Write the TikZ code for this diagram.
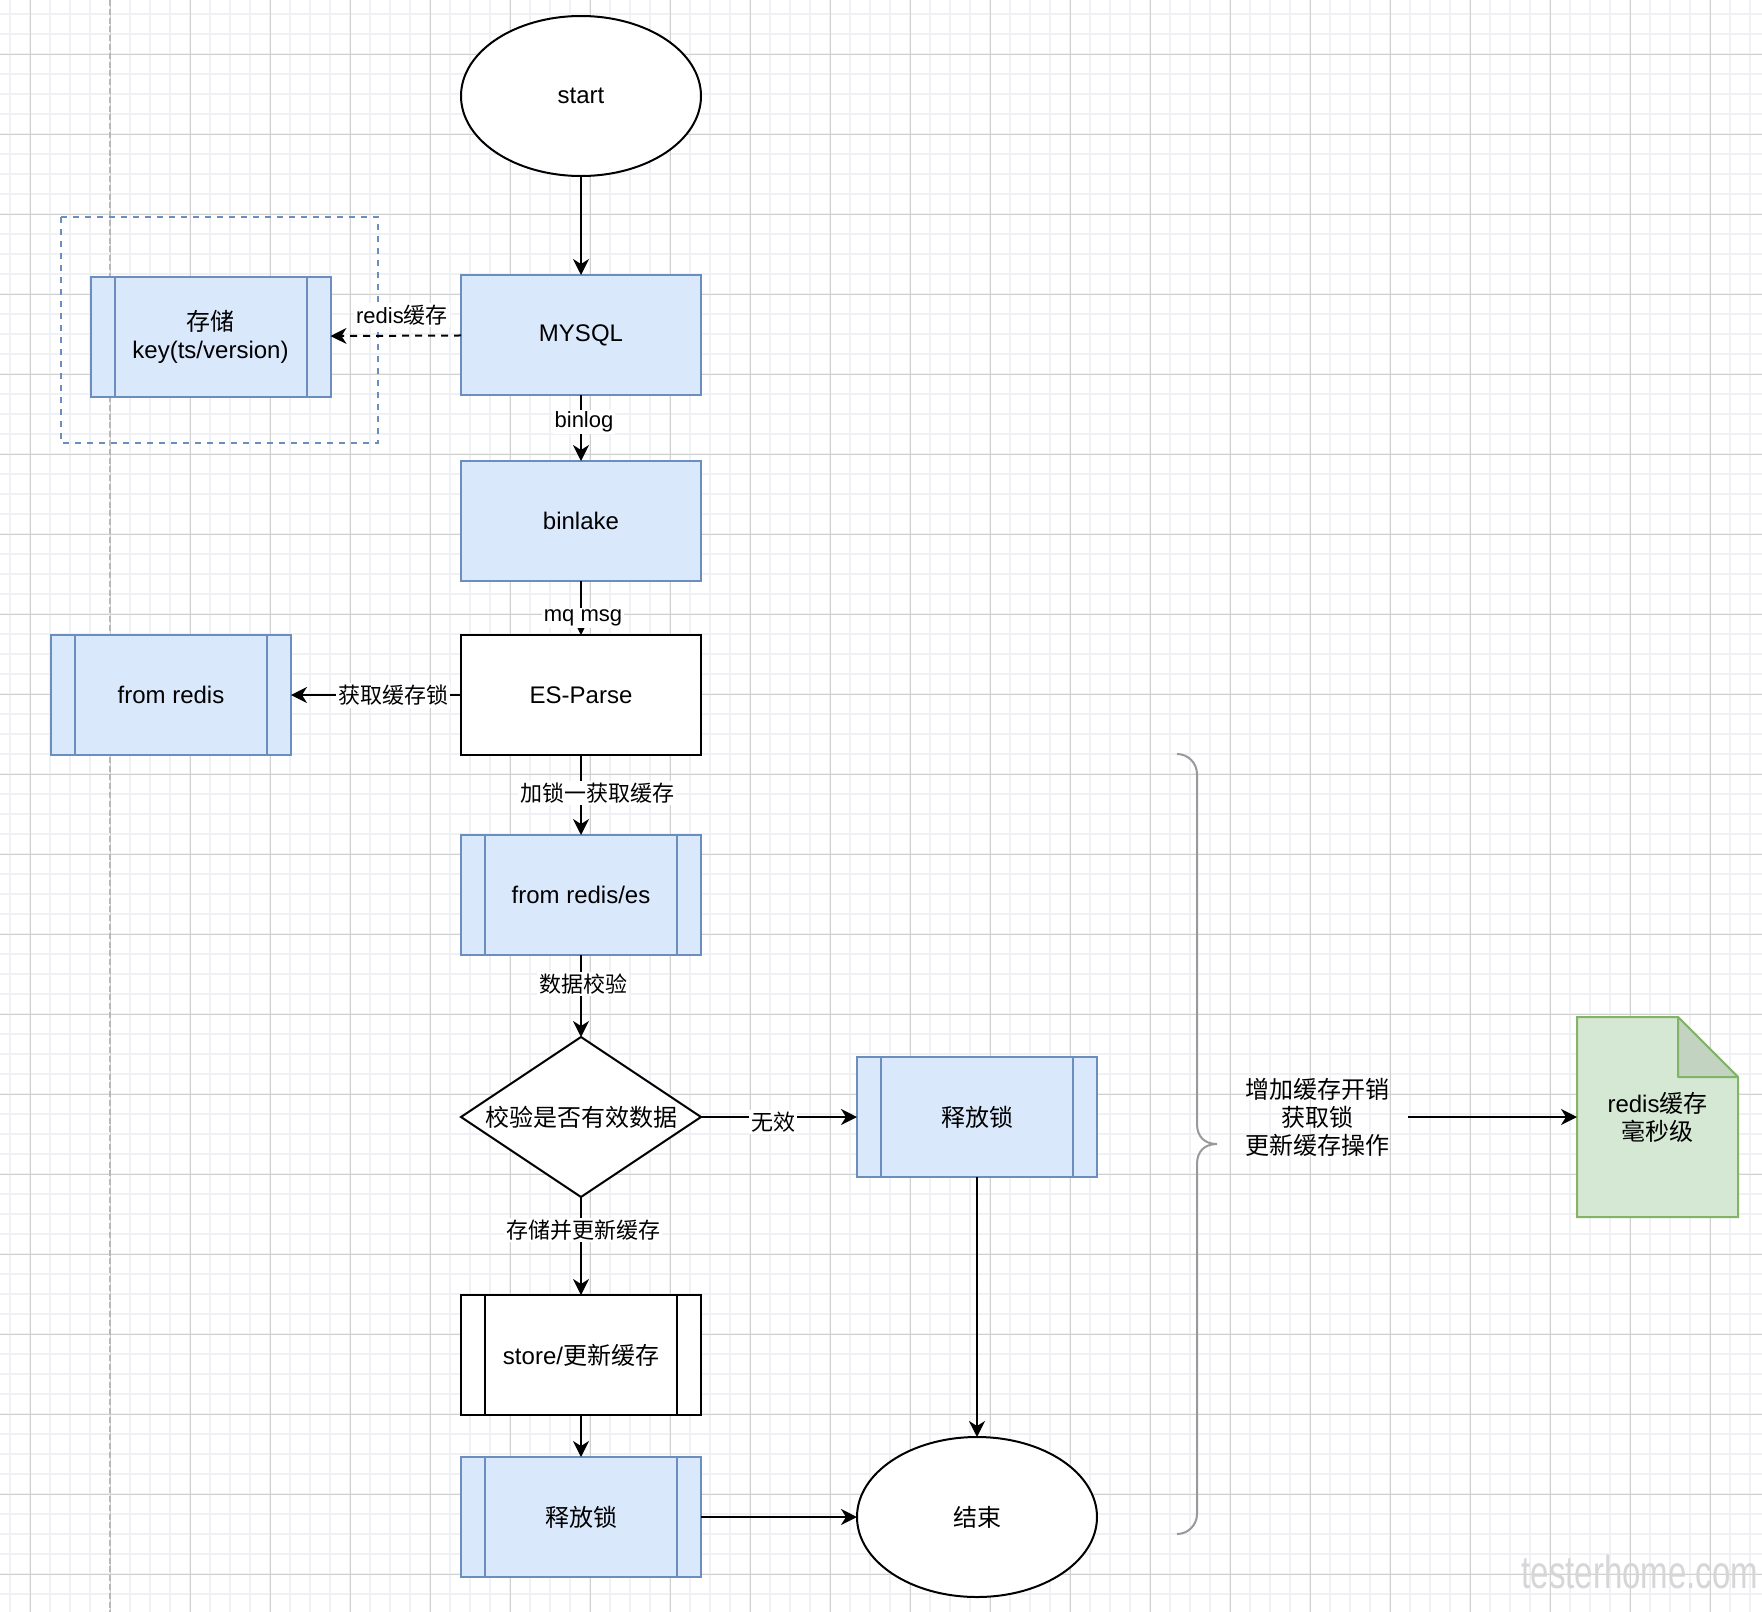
\documentclass[tikz,border=0pt]{standalone}
\usepackage{fontspec}
\setmainfont{Liberation Sans}
\newfontfamily\cjk{Noto Sans CJK SC}
\usetikzlibrary{shapes.geometric,arrows.meta}
\definecolor{bfill}{HTML}{DAE8FC}
\definecolor{bline}{HTML}{6C8EBF}
\definecolor{gfill}{HTML}{D5E8D4}
\definecolor{gline}{HTML}{82B366}
\definecolor{gfold}{HTML}{C3D3C2}
\definecolor{minorgrid}{HTML}{F0F1F4}
\definecolor{majorgrid}{HTML}{D0D0D0}
\definecolor{bracegray}{HTML}{999999}
\newcommand\zh[1]{{\cjk #1}}
\newcommand\procbars[2]{\draw[#2, line width=1pt] ([xshift=12pt]#1.north west) -- ([xshift=12pt]#1.south west) ([xshift=-12pt]#1.north east) -- ([xshift=-12pt]#1.south east);}
\begin{document}
\begin{tikzpicture}[x=0.5pt,y=-0.5pt, font=\fontsize{12}{14}\selectfont,
  box/.style={rectangle, draw=black, line width=1pt, minimum width=120pt, minimum height=60pt, inner sep=0pt, outer sep=0pt, align=center},
  bluebox/.style={box, draw=bline, fill=bfill},
  oval/.style={ellipse, draw=black, line width=1pt, fill=white, minimum width=120pt, minimum height=80pt, inner sep=0pt, outer sep=0pt},
  conn/.style={line width=1pt, -{Stealth[length=8pt,width=8pt,inset=2.5pt]}},
  lab/.style={fill=white, inner sep=1pt, font=\fontsize{11}{13}\selectfont}
]
\useasboundingbox (0,0) rectangle (1762,1612);
\fill[white] (0,0) rectangle (1762,1612);
% grid
\foreach \x in {10,30,...,1750} \draw[minorgrid, line width=1pt] (\x,0) -- (\x,1612);
\foreach \y in {14,34,...,1594} \draw[minorgrid, line width=1pt] (0,\y) -- (1762,\y);
\foreach \x in {30,110,...,1710} \draw[majorgrid, line width=0.5pt] (\x,0) -- (\x,1612);
\foreach \y in {54,134,...,1574} \draw[majorgrid, line width=0.5pt] (0,\y) -- (1762,\y);
% vertical dashed guide
\draw[black!28, line width=0.7pt, dash pattern=on 3pt off 1.4pt] (110,0) -- (110,1612);
% dashed container
\draw[bline, line width=0.8pt, dash pattern=on 3pt off 3pt] (61,217) rectangle (378,443);

% nodes
\node[oval] (start) at (581,96) {start};
\node[bluebox] (mysql) at (581,335) {MYSQL};
\node[bluebox] (kv) at (210.5,336.5) {\zh{存储}\\key(ts/version)};
\node[bluebox] (binlake) at (581,521) {binlake};
\node[box, fill=white] (es) at (581,695) {ES-Parse};
\node[bluebox] (fr) at (171,695) {from redis};
\node[bluebox] (fre) at (581,895) {from redis/es};
\node[diamond, draw=black, line width=1pt, fill=white, minimum width=120pt, minimum height=80pt, inner sep=0pt, outer sep=0pt] (dia) at (581,1117) {};
\node (diat) at (dia) {\zh{校验是否有效数据}};
\node[bluebox] (rel1) at (977,1117) {\zh{释放锁}};
\node[box, fill=white] (store) at (581,1355) {store/\zh{更新缓存}};
\node[bluebox] (rel2) at (581,1517) {\zh{释放锁}};
\node[oval] (end) at (977,1517) {\zh{结束}};
\procbars{kv}{bline}
\procbars{fr}{bline}
\procbars{fre}{bline}
\procbars{rel1}{bline}
\procbars{store}{black}
\procbars{rel2}{bline}

% note
\filldraw[fill=gfill, draw=gline, line width=1pt] (1577,1017) -- (1678,1017) -- (1738,1077) -- (1738,1217) -- (1577,1217) -- cycle;
\filldraw[fill=gfold, draw=gline, line width=1pt, line join=round] (1678,1017) -- (1678,1077) -- (1738,1077) -- cycle;
\node[minimum width=80.5pt, minimum height=100pt, inner sep=0pt, outer sep=0pt, align=center] (note) at (1657.5,1117) {redis\zh{缓存}\\\zh{毫秒级}};

% brace
\draw[bracegray, line width=1pt] (1177,754) .. controls (1188,754) and (1197,763) .. (1197,774)
  -- (1197,1124) .. controls (1197,1136) and (1204,1144) .. (1217,1144)
  .. controls (1204,1144) and (1197,1152) .. (1197,1164)
  -- (1197,1514) .. controls (1197,1525) and (1188,1534) .. (1177,1534);
\node[align=center] (bt) at (1317,1117) {\zh{增加缓存开销}\\\zh{获取锁}\\\zh{更新缓存操作}};
\coordinate (bto) at (1408,1117);

% connectors
\draw[conn] (start) -- (mysql);
\draw[conn, dash pattern=on 3.5pt off 3pt] (mysql) -- (kv);
\draw[conn] (mysql) -- (binlake);
\draw[conn] (binlake) -- (es);
\draw[conn] (es) -- (fr);
\draw[conn] (es) -- (fre);
\draw[conn] (fre) -- (dia);
\draw[conn] (dia.east) -- (rel1);
\draw[conn] (dia.south) -- (store);
\draw[conn] (store) -- (rel2);
\draw[conn] (rel2) -- (end);
\draw[conn] (rel1) -- (end);
\draw[conn] (bto) -- (note.west);

% labels
\node[lab] (l1) at (402,315) {redis\zh{缓存}};
\node[lab] (l2) at (584,422) {binlog};
\node[lab] (l3) at (583,618) {mq msg};
\node[lab] (l4) at (393,695.5) {\zh{获取缓存锁}};
\node[lab] (l5) at (597,793) {\zh{加锁一获取缓存}};
\node[lab] (l6) at (583,984) {\zh{数据校验}};
\node[lab] (l7) at (773,1122) {\zh{无效}};
\node[lab] (l8) at (583,1230) {\zh{存储并更新缓存}};

% watermark
\node[text=black!16, inner sep=0pt, anchor=base, font=\fontsize{16.5}{18}\selectfont] (wm) at (1640,1588) {\scalebox{1}[1.4]{testerhome.com}};
\end{tikzpicture}
\end{document}
